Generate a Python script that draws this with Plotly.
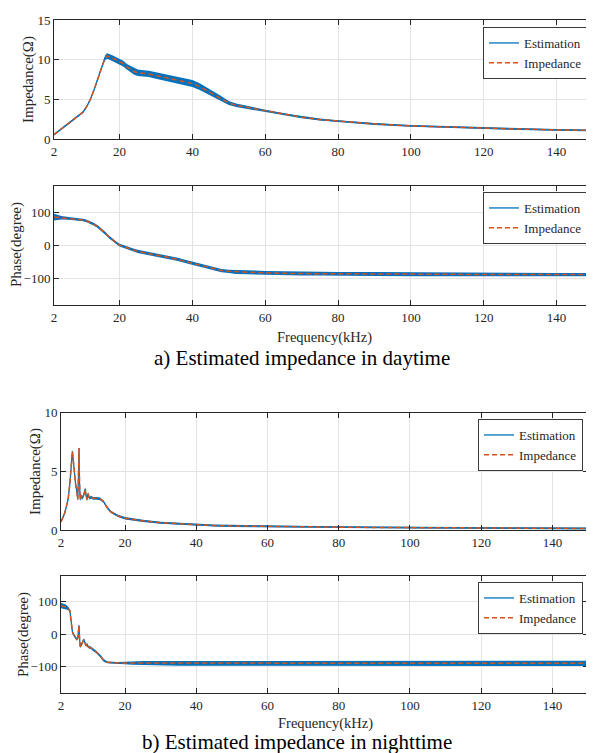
import plotly.graph_objects as go

FONT = "Liberation Serif, Times New Roman, serif"
BLUE = "#0072BD"
ORANGE = "#D95319"
AXC = "#262626"

# ---------------- daytime data ----------------
freq_day = [2, 4, 6, 8, 10, 11, 12, 13, 14, 15, 16, 16.5, 17, 18, 19, 20, 21, 22, 23, 24,
            25, 26, 28, 30, 32, 34, 36, 38, 40, 42, 44, 46, 48, 50, 52, 55, 58, 60, 65, 70,
            75, 80, 90, 100, 110, 120, 130, 140, 150]
imp_day_mag = [0.55, 1.25, 2.0, 2.75, 3.4, 4.1, 5.0, 6.2, 7.6, 9.1, 10.2, 10.45, 10.4, 10.2, 10.0,
               9.8, 9.5, 9.1, 8.8, 8.5, 8.35, 8.3, 8.2, 8.0, 7.8, 7.6, 7.45, 7.25, 7.0, 6.6,
               6.1, 5.6, 5.1, 4.55, 4.25, 4.0, 3.7, 3.5, 3.1, 2.75, 2.45, 2.25, 1.9, 1.65, 1.5,
               1.38, 1.25, 1.15, 1.08]
est_day_mag = [0.55, 1.25, 2.0, 2.75, 3.4, 4.1, 5.0, 6.2, 7.6, 9.1, 10.2, 10.45, 10.4, 10.2, 10.0,
               9.8, 9.5, 9.1, 8.8, 8.5, 8.35, 8.3, 8.2, 8.0, 7.8, 7.6, 7.45, 7.25, 7.0, 6.6,
               6.1, 5.6, 5.1, 4.55, 4.25, 4.0, 3.7, 3.5, 3.1, 2.75, 2.45, 2.25, 1.9, 1.65, 1.5,
               1.38, 1.25, 1.15, 1.08]
est_day_mag_spread = [0.12, 0.12, 0.12, 0.12, 0.12, 0.12, 0.13, 0.15, 0.15, 0.2, 0.3, 0.35, 0.35, 0.35, 0.35,
                      0.35, 0.35, 0.35, 0.4, 0.4, 0.4, 0.4, 0.4, 0.4, 0.42, 0.42, 0.42, 0.45, 0.45, 0.42,
                      0.4, 0.32, 0.28, 0.25, 0.22, 0.2, 0.18, 0.16, 0.14, 0.13, 0.12, 0.12, 0.12, 0.12, 0.12,
                      0.12, 0.12, 0.11, 0.11]
imp_day_phase = [86, 84, 82, 80, 77, 74, 70, 64, 57, 48, 38, 33, 27, 17, 9, 1, -3, -8, -12, -15,
                 -18, -20, -24, -28, -33, -37, -42, -48, -54, -60, -66, -72, -76, -78, -80, -81,
                 -82, -83, -84, -85, -85, -86, -86, -87, -87, -88, -88, -88, -88]
est_day_phase = [86, 84, 82, 80, 77, 74, 70, 64, 57, 48, 38, 33, 27, 17, 9, 1, -3, -8, -12, -15,
                 -18, -20, -24, -28, -33, -37, -42, -48, -54, -60, -66, -72, -76, -78, -80, -81,
                 -82, -83, -84, -85, -85, -86, -86, -87, -87, -88, -88, -88, -88]
est_day_phase_spread = [10, 5, 4, 4, 4, 4, 4, 4, 4, 4, 4, 4, 4, 4, 4, 4, 4, 4, 5, 5,
                        5, 5, 5, 5, 5, 5, 5, 5, 5, 5, 5, 5, 5, 5, 6, 6, 6, 6, 6, 6,
                        6, 6, 6, 6, 6, 6, 5, 5, 5]

# ---------------- nighttime data ----------------
freq_night = [2, 2.5, 3, 3.5, 4, 4.5, 4.8, 5.0, 5.2, 5.5, 5.8, 6.1, 6.4, 6.7, 6.9, 7.05, 7.2, 7.4,
              7.7, 8.0, 8.4, 8.8, 9.0, 9.3, 9.6, 10, 10.5, 11, 12, 13, 14, 15, 16, 17, 18, 20,
              22, 25, 30, 35, 40, 45, 50, 60, 70, 80, 90, 100, 110, 120, 130, 140, 150]
imp_night_mag = [0.7, 1.0, 1.4, 2.0, 2.6, 4.0, 5.5, 6.5, 6.7, 5.8, 4.5, 3.9, 3.4, 2.6, 4.5, 7.0,
                 4.0, 2.6, 2.9, 2.7, 3.0, 3.5, 3.0, 2.6, 3.1, 2.7, 2.8, 2.7, 2.7, 2.65, 2.4, 1.9,
                 1.55, 1.35, 1.2, 1.0, 0.9, 0.78, 0.62, 0.52, 0.45, 0.38, 0.35, 0.3, 0.27, 0.24,
                 0.22, 0.21, 0.2, 0.19, 0.16, 0.14, 0.13]
est_night_mag = [0.7, 1.0, 1.4, 2.0, 2.6, 4.0, 5.5, 6.5, 6.7, 5.8, 4.5, 3.9, 3.4, 2.6, 4.5, 7.0,
                 4.0, 2.6, 2.9, 2.7, 3.0, 3.5, 3.0, 2.6, 3.1, 2.7, 2.8, 2.7, 2.7, 2.65, 2.4, 1.9,
                 1.55, 1.35, 1.2, 1.0, 0.9, 0.78, 0.62, 0.52, 0.45, 0.38, 0.35, 0.3, 0.27, 0.24,
                 0.22, 0.21, 0.2, 0.19, 0.16, 0.14, 0.13]
est_night_mag_spread = [0.1, 0.1, 0.1, 0.1, 0.12, 0.15, 0.15, 0.15, 0.15, 0.15, 0.15, 0.15, 0.15,
                        0.15, 0.15, 0.15, 0.15, 0.15, 0.15, 0.15, 0.15, 0.15, 0.15, 0.15, 0.15,
                        0.12, 0.12, 0.12, 0.12, 0.12, 0.1, 0.1, 0.1, 0.1, 0.1, 0.1, 0.1, 0.1,
                        0.09, 0.09, 0.09, 0.09, 0.09, 0.08, 0.08, 0.08, 0.08, 0.08, 0.08, 0.08,
                        0.08, 0.08, 0.08]
imp_night_phase = [88, 87, 86, 84, 80, 72, 45, 22, 8, 0, -7, -10, -15, -12, 10, 28, -10, -38,
                   -33, -25, -16, -28, -35, -30, -38, -40, -42, -47, -55, -66, -80, -86, -87,
                   -87, -88, -88, -88, -88, -89, -89, -89, -89, -89, -89, -89, -89, -89, -89,
                   -89, -89, -89, -89, -89]
est_night_phase = [88, 87, 86, 84, 80, 72, 45, 22, 8, 0, -7, -10, -15, -12, 10, 28, -10, -38,
                   -33, -25, -16, -28, -35, -30, -38, -40, -42, -47, -55, -66, -80, -86, -87,
                   -87, -88, -88, -88, -88, -89, -89, -89, -89, -89, -89, -89, -89, -89, -89,
                   -89, -89, -89, -89, -89]
est_night_phase_spread = [8, 8, 7, 6, 5, 4, 4, 4, 4, 4, 4, 4, 4, 4, 4, 4, 4, 4, 4, 4, 4, 4, 4,
                          4, 4, 4, 4, 4, 4, 4, 4, 3, 3, 3, 3, 4, 5, 6, 7, 7, 7, 7, 8, 8, 8, 8,
                          8, 8, 9, 9, 8, 8, 8]

x_ticks = [2, 20, 40, 60, 80, 100, 120, 140]
mag_day_ticks = [0, 5, 10, 15]
mag_night_ticks = [0, 5, 10]
phase_ticks = [-100, 0, 100]
legend_labels = ["Estimation", "Impedance"]
y_titles = ["Impedance(Ω)", "Phase(degree)", "Impedance(Ω)", "Phase(degree)"]
x_title = "Frequency(kHz)"
captions = ["a) Estimated impedance in daytime", "b) Estimated impedance in nighttime"]

# page body has an 8px default margin: the figure is drawn from (8, 8)
OFF = 8
W, H = 594 - OFF, 753 - OFF

fig = go.Figure()

panels = [
    (freq_day, est_day_mag, est_day_mag_spread, imp_day_mag, "x", "y", "legend"),
    (freq_day, est_day_phase, est_day_phase_spread, imp_day_phase, "x2", "y2", "legend2"),
    (freq_night, est_night_mag, est_night_mag_spread, imp_night_mag, "x3", "y3", "legend3"),
    (freq_night, est_night_phase, est_night_phase_spread, imp_night_phase, "x4", "y4", "legend4"),
]

for f, est, spr, imp, xa, ya, lg in panels:
    lo = [e - s for e, s in zip(est, spr)]
    hi = [e + s for e, s in zip(est, spr)]
    fig.add_trace(go.Scatter(x=f, y=lo, mode="lines", line=dict(width=0, color=BLUE),
                             xaxis=xa, yaxis=ya, showlegend=False, hoverinfo="skip",
                             legend=lg))
    fig.add_trace(go.Scatter(x=f, y=hi, mode="lines", line=dict(width=0, color=BLUE),
                             fill="tonexty", fillcolor=BLUE,
                             xaxis=xa, yaxis=ya, showlegend=False, hoverinfo="skip",
                             legend=lg))
    fig.add_trace(go.Scatter(x=f, y=est, mode="lines", name=legend_labels[0],
                             line=dict(width=1.3, color=BLUE), xaxis=xa, yaxis=ya, legend=lg))
    fig.add_trace(go.Scatter(x=f, y=imp, mode="lines", name=legend_labels[1],
                             line=dict(width=1.5, color=ORANGE, dash="5px,3px"),
                             xaxis=xa, yaxis=ya, legend=lg))


def px_x(x):
    return (x - OFF) / W


def px_y(y):
    return 1 - (y - OFF) / H


tickfont = dict(family=FONT, size=13, color=AXC)
common = dict(ticks="inside", ticklen=5, tickcolor=AXC, showline=True, linecolor=AXC,
              linewidth=1, mirror="allticks", showgrid=True, gridcolor="#e3e3e3",
              gridwidth=1, zeroline=False, tickfont=tickfont, automargin=False)

dom_top = [px_x(54), px_x(593)]
dom_bot = [px_x(61), px_x(588)]
ydoms = [
    [px_y(139), px_y(20)],
    [px_y(305), px_y(186)],
    [px_y(530), px_y(412.7)],
    [px_y(693), px_y(575.7)],
]

layout = dict(
    template="none",
    width=W, height=H, margin=dict(l=0, r=0, t=0, b=0, pad=0), autosize=False,
    paper_bgcolor="white", plot_bgcolor="white",
    font=dict(family=FONT, color=AXC),
)
xdoms = [dom_top, dom_top, dom_bot, dom_bot]
yranges = [[0, 15], [-180, 180], [0, 10], [-180, 180]]
yticks = [mag_day_ticks, phase_ticks, mag_night_ticks, phase_ticks]
for i in range(4):
    sx = "" if i == 0 else str(i + 1)
    layout["xaxis" + sx] = dict(domain=xdoms[i], anchor="y" + sx, range=[2, 150],
                                tickvals=x_ticks, **common)
    layout["yaxis" + sx] = dict(domain=ydoms[i], anchor="x" + sx, range=yranges[i],
                                tickvals=yticks[i], **common)

legend_pos = [(588, 27), (588, 192), (583, 419), (583, 582)]
for i, (lx, ly) in enumerate(legend_pos):
    key = "legend" if i == 0 else "legend" + str(i + 1)
    layout[key] = dict(x=px_x(lx), y=px_y(ly), xanchor="right", yanchor="top",
                       bgcolor="white", bordercolor="#3a3a3a", borderwidth=1,
                       font=dict(family=FONT, size=13, color=AXC),
                       itemwidth=30, tracegroupgap=0, traceorder="normal")

fig.update_layout(**layout)

ann = []
ytitle_pos = [(28, 80), (16, 245), (35, 472), (23, 635)]
for t, (ax_, ay_) in zip(y_titles, ytitle_pos):
    ann.append(dict(text=t, x=px_x(ax_), y=px_y(ay_), xref="paper", yref="paper",
                    textangle=-90, showarrow=False, xanchor="center", yanchor="middle",
                    font=dict(family=FONT, size=15, color=AXC)))
for (ax_, ay_) in [(324, 337), (325.5, 723)]:
    ann.append(dict(text=x_title, x=px_x(ax_), y=px_y(ay_), xref="paper", yref="paper",
                    showarrow=False, xanchor="center", yanchor="middle",
                    font=dict(family=FONT, size=14.5, color=AXC)))
for t, (ax_, ay_) in zip(captions, [(302, 358), (296.5, 742)]):
    ann.append(dict(text=t, x=px_x(ax_), y=px_y(ay_), xref="paper", yref="paper",
                    showarrow=False, xanchor="center", yanchor="middle",
                    font=dict(family=FONT, size=21, color="black")))
fig.update_layout(annotations=ann)

fig.write_html("out.html")
